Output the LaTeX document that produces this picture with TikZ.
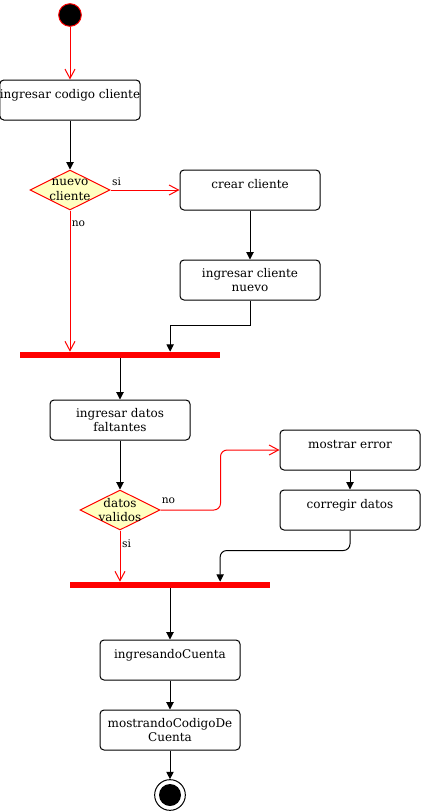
\documentclass[tikz,border=0pt]{standalone}
\usepackage{fontspec}
\setmainfont{DejaVu Serif}
\usepackage{tikz}
\usetikzlibrary{calc, positioning, arrows.meta, shapes.geometric}
\definecolor{umlred}{HTML}{FF0000}
\definecolor{decfill}{HTML}{FFFFC0}

\begin{document}
\begin{tikzpicture}[
        x=0.75pt, y=-0.75pt,
        % Define styles for consistency
        act/.style={
            rectangle,
            draw=black,
            line width=0.75pt,
            rounded corners=3pt,
            fill=white,
            minimum width=105pt,
            minimum height=30pt,
            inner xsep=0pt,
            align=center,
            font=\fontsize{9}{10.8}\selectfont
        },
        onerow/.style={
            text height=7pt,
            text depth=10pt
        },
        decision/.style={
            diamond,
            draw=umlred,
            fill=decfill,
            line width=0.75pt,
            minimum width=60pt,
            minimum height=30pt,
            inner sep=0pt
        },
        dectext/.style={
            align=center,
            inner sep=0pt,
            font=\fontsize{9}{10.8}\selectfont
        },
        bar/.style={
            rectangle,
            fill=umlred,
            minimum width=150pt,
            minimum height=4.5pt,
            inner sep=0pt
        },
        start/.style={
            circle,
            draw=umlred,
            fill=black,
            line width=0.75pt,
            minimum size=17pt,
            inner sep=0pt
        },
        stop/.style={
            circle,
            draw=black,
            fill=white,
            line width=0.75pt,
            minimum size=23pt,
            inner sep=0pt,
            path picture={
                \fill[black] (path picture bounding box.center) circle (8.25pt);
            }
        },
        lbl/.style={
            inner sep=0pt,
            font=\fontsize{8}{9.6}\selectfont
        },
        line/.style={
            draw,
            line width=0.75pt,
            -{Triangle[length=5.5pt,width=5.5pt]}
        },
        flow/.style={
            draw=umlred,
            line width=0.75pt,
            -{Straight Barb[length=7pt,width=7.5pt]}
        }
    ]

    \useasboundingbox (0,0) rectangle (421,811);

    % --- CLIENTE ---

    % Start and first activity
    \node[start] (inicio) at (70,15) {};
    \node[act, onerow] (ingCodigo) at (70,100) {ingresar codigo cliente};

    % Decision: nuevo cliente
    \node[decision] (decCliente) at (70,190) {};
    \node[dectext] (txtCliente) at (decCliente) {nuevo\\cliente};

    % Right branch
    \node[act, onerow] (crear) at (250,190) {crear cliente};
    \node[act] (ingNuevo) at (250,280) {ingresar cliente\\nuevo};

    % Join bar
    \node[bar] (bar1) at (120,355) {};
    \coordinate (join1in) at ($(bar1.north west)!0.75!(bar1.north east)$);

    % Connections
    \draw[flow] (inicio) -- (ingCodigo);
    \draw[line] (ingCodigo) -- (decCliente);
    \draw[flow] (decCliente) -- (crear);
    \draw[line] (crear) -- (ingNuevo);
    \draw[line] (ingNuevo.south) -- ++(0,25) -| (join1in);
    \draw[flow] (decCliente.south) -- (decCliente |- bar1.north);

    % Edge labels
    \node[lbl] (siCliente) at (116.5,182) {si};
    \node[lbl] (noCliente) at (78.5,224) {no};

    % --- DATOS ---

    \node[act] (ingDatos) at (120,420) {ingresar datos\\faltantes};

    % Decision: datos validos
    \node[decision] (decDatos) at (120,510) {};
    \node[dectext] (txtDatos) at (decDatos) {datos\\validos};

    % Error loop
    \node[act, onerow] (mostrar) at (350,450) {mostrar error};
    \node[act, onerow] (corregir) at (350,510) {corregir datos};

    % Join bar
    \node[bar] (bar2) at (170,585) {};
    \coordinate (join2in) at ($(bar2.north west)!0.75!(bar2.north east)$);

    % Connections
    \draw[line] (bar1) -- (ingDatos);
    \draw[line] (ingDatos) -- (decDatos);
    \draw[flow, rounded corners=5pt] (decDatos.east) -- ++(60,0) |- (mostrar.west);
    \draw[line] (mostrar) -- (corregir);
    \draw[line, rounded corners=5pt] (corregir.south) -- ++(0,20) -| (join2in);
    \draw[flow] (decDatos.south) -- (decDatos |- bar2.north);

    % Edge labels
    \node[lbl] (noDatos) at (168.5,501) {no};
    \node[lbl] (siDatos) at (126.5,544) {si};

    % --- CUENTA ---

    \node[act, onerow] (ingCuenta) at (170,660) {ingresandoCuenta};
    \node[act] (mostCodigo) at (170,730) {mostrandoCodigoDe\\Cuenta};
    \node[stop] (fin) at (170,795) {};

    \draw[line] (bar2) -- (ingCuenta);
    \draw[line] (ingCuenta) -- (mostCodigo);
    \draw[line] (mostCodigo) -- (fin);

\end{tikzpicture}
\end{document}
